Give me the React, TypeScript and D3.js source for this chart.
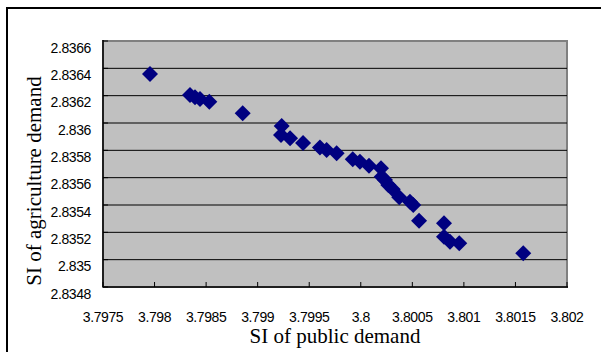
import React from "react";
import * as d3 from "d3";

const xTicks = [3.7975, 3.798, 3.7985, 3.799, 3.7995, 3.8, 3.8005, 3.801, 3.8015, 3.802];
const xTickLabels = ["3.7975", "3.798", "3.7985", "3.799", "3.7995", "3.8", "3.8005", "3.801", "3.8015", "3.802"];
const yTicks = [2.8348, 2.835, 2.8352, 2.8354, 2.8356, 2.8358, 2.836, 2.8362, 2.8364, 2.8366];
const yTickLabels = ["2.8348", "2.835", "2.8352", "2.8354", "2.8356", "2.8358", "2.836", "2.8362", "2.8364", "2.8366"];

const publicDemand = [
  3.797956, 3.798344, 3.798392, 3.798441, 3.798531, 3.798855, 3.799233, 3.799226, 3.799314,
  3.79944, 3.799604, 3.799669, 3.799766, 3.799922, 3.799992, 3.80008, 3.800196, 3.800203,
  3.800235, 3.800267, 3.80031, 3.800373, 3.800477, 3.800509, 3.800565, 3.800807, 3.800807,
  3.800865, 3.800955, 3.801576,
];
const agricultureDemand = [
  2.836359, 2.836205, 2.836188, 2.836176, 2.836156, 2.836071, 2.835978, 2.835912, 2.835888,
  2.835854, 2.835821, 2.835802, 2.835778, 2.835734, 2.835717, 2.835688, 2.835669, 2.835607,
  2.835583, 2.835546, 2.835515, 2.835456, 2.835424, 2.8354, 2.835285, 2.835266, 2.835168,
  2.835131, 2.83512, 2.835047,
];

const W = 601;
const H = 352;
const plot = { left: 103, top: 41, right: 567, bottom: 287 };

export default function App() {
  const x = d3.scaleLinear().domain([3.7975, 3.802]).range([plot.left, plot.right]);
  const y = d3.scaleLinear().domain([2.8348, 2.8366]).range([plot.bottom, plot.top]);
  const diamond = d3.symbol().type(d3.symbolSquare).size(128)() as string;
  const sans = "'Liberation Sans', Arial, sans-serif";
  const serif = "'Liberation Serif', 'Times New Roman', serif";

  return (
    <svg
      width={W}
      height={H}
      style={{ position: "absolute", left: 0, top: 0, background: "#fff", overflow: "hidden" }}
    >
      <rect x={0} y={0} width={W} height={H} fill="#fff" />
      <rect x={7} y={8} width={700} height={500} fill="#fff" stroke="#000" strokeWidth={2} />
      {/* plot area */}
      <rect
        x={plot.left}
        y={plot.top}
        width={plot.right - plot.left}
        height={plot.bottom - plot.top}
        fill="#c0c0c0"
        stroke="#808080"
        strokeWidth={2}
      />
      {/* gridlines */}
      {yTicks.map((t, i) =>
        i === 0 || i === yTicks.length - 1 ? null : (
          <line key={"g" + i} x1={plot.left} x2={plot.right} y1={y(t)} y2={y(t)} stroke="#000" strokeWidth={1} />
        )
      )}
      {/* axes */}
      <line x1={plot.left} x2={plot.left} y1={plot.top - 1} y2={plot.bottom} stroke="#000" strokeWidth={1.5} />
      <line x1={plot.left} x2={plot.right + 1} y1={plot.bottom} y2={plot.bottom} stroke="#000" strokeWidth={1.5} />
      {xTicks.map((t, i) => (
        <line key={"xt" + i} x1={x(t)} x2={x(t)} y1={plot.bottom} y2={plot.bottom - 5} stroke="#000" strokeWidth={1} />
      ))}
      {yTicks.map((t, i) => (
        <line key={"yt" + i} x1={plot.left} x2={plot.left + 5} y1={y(t)} y2={y(t)} stroke="#000" strokeWidth={1} />
      ))}
      {/* tick labels */}
      {yTicks.map((t, i) => (
        <text
          key={"yl" + i}
          x={91}
          y={y(t) + 11.5}
          textAnchor="end"
          fontFamily={sans}
          fontSize={14}
          letterSpacing={-0.4}
          fill="#000"
        >
          {yTickLabels[i]}
        </text>
      ))}
      {xTicks.map((t, i) => (
        <text
          key={"xl" + i}
          x={x(t)}
          y={321.5}
          textAnchor="middle"
          fontFamily={sans}
          fontSize={14}
          letterSpacing={-0.4}
          fill="#000"
        >
          {xTickLabels[i]}
        </text>
      ))}
      {/* points */}
      {publicDemand.map((v, i) => (
        <path
          key={"p" + i}
          d={diamond}
          transform={`translate(${x(v)},${y(agricultureDemand[i])}) rotate(45)`}
          fill="#000080"
        />
      ))}
      {/* axis titles */}
      <text x={(plot.left + plot.right) / 2} y={343} textAnchor="middle" fontFamily={serif} fontSize={21} fill="#000">
        SI of public demand
      </text>
      <text
        transform={`translate(41,181) rotate(-90)`}
        textAnchor="middle"
        fontFamily={serif}
        fontSize={21}
        fill="#000"
      >
        SI of agriculture demand
      </text>
    </svg>
  );
}
